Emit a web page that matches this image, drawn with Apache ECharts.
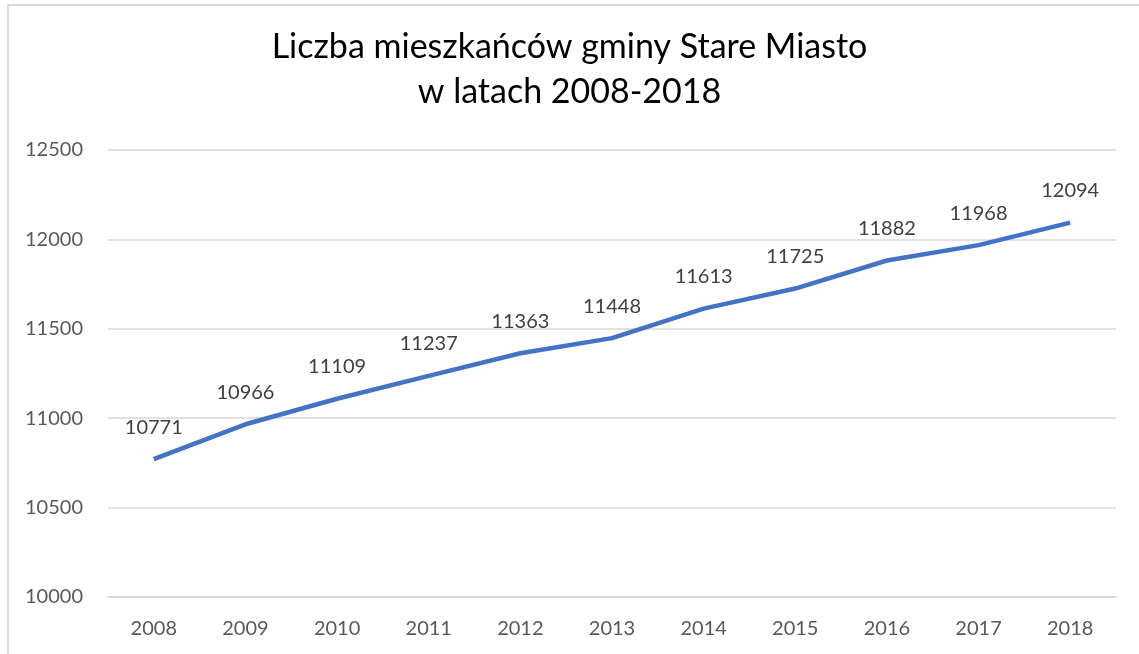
<!DOCTYPE html>
<html>
<head>
<meta charset="utf-8">
<script src="https://cdn.jsdelivr.net/npm/echarts@6/dist/echarts.min.js"></script>
<style>
  html, body { margin: 0; padding: 0; background: #fff; }
  #chart { width: 1139px; height: 654px; }
</style>
</head>
<body>
<div id="chart"></div>
<script>
var years = ['2008', '2009', '2010', '2011', '2012', '2013', '2014', '2015', '2016', '2017', '2018'];
var residents = [10771, 10966, 11109, 11237, 11363, 11448, 11613, 11725, 11882, 11968, 12094];

var chart = echarts.init(document.getElementById('chart'));

chart.setOption({
  backgroundColor: '#fff',
  textStyle: { fontFamily: 'Lato' },
  title: {
    text: 'Liczba mieszkańców gminy Stare Miasto\nw latach 2008-2018',
    left: 'center',
    top: 20,
    textStyle: {
      color: '#000',
      fontSize: 34,
      fontWeight: 'normal',
      lineHeight: 45,
      fontFamily: 'Lato'
    }
  },
  graphic: [{
    type: 'rect',
    shape: { x: 8, y: 5, width: 1140, height: 660 },
    style: { fill: 'none', stroke: '#d9d9d9', lineWidth: 2 },
    silent: true
  }],
  grid: {
    left: 108,
    right: 23,
    top: 150,
    bottom: 57
  },
  xAxis: {
    type: 'category',
    data: years,
    boundaryGap: true,
    axisLine: { lineStyle: { color: '#d9d9d9', width: 2 } },
    axisTick: { show: false },
    axisLabel: { color: '#595959', fontSize: 20, margin: 22 }
  },
  yAxis: {
    type: 'value',
    min: 10000,
    max: 12500,
    interval: 500,
    axisLine: { show: false },
    axisTick: { show: false },
    axisLabel: {
      color: '#595959',
      fontSize: 20,
      margin: 25,
      formatter: function (v) { return String(v); }
    },
    splitLine: { lineStyle: { color: '#d9d9d9', width: 1.5 } }
  },
  series: [{
    type: 'line',
    data: residents,
    symbol: 'circle',
    symbolSize: 0,
    lineStyle: { color: '#4472c4', width: 4.5 },
    itemStyle: { color: '#4472c4' },
    label: {
      show: true,
      position: 'top',
      distance: 22,
      color: '#404040',
      fontSize: 20
    }
  }]
});
</script>
</body>
</html>
